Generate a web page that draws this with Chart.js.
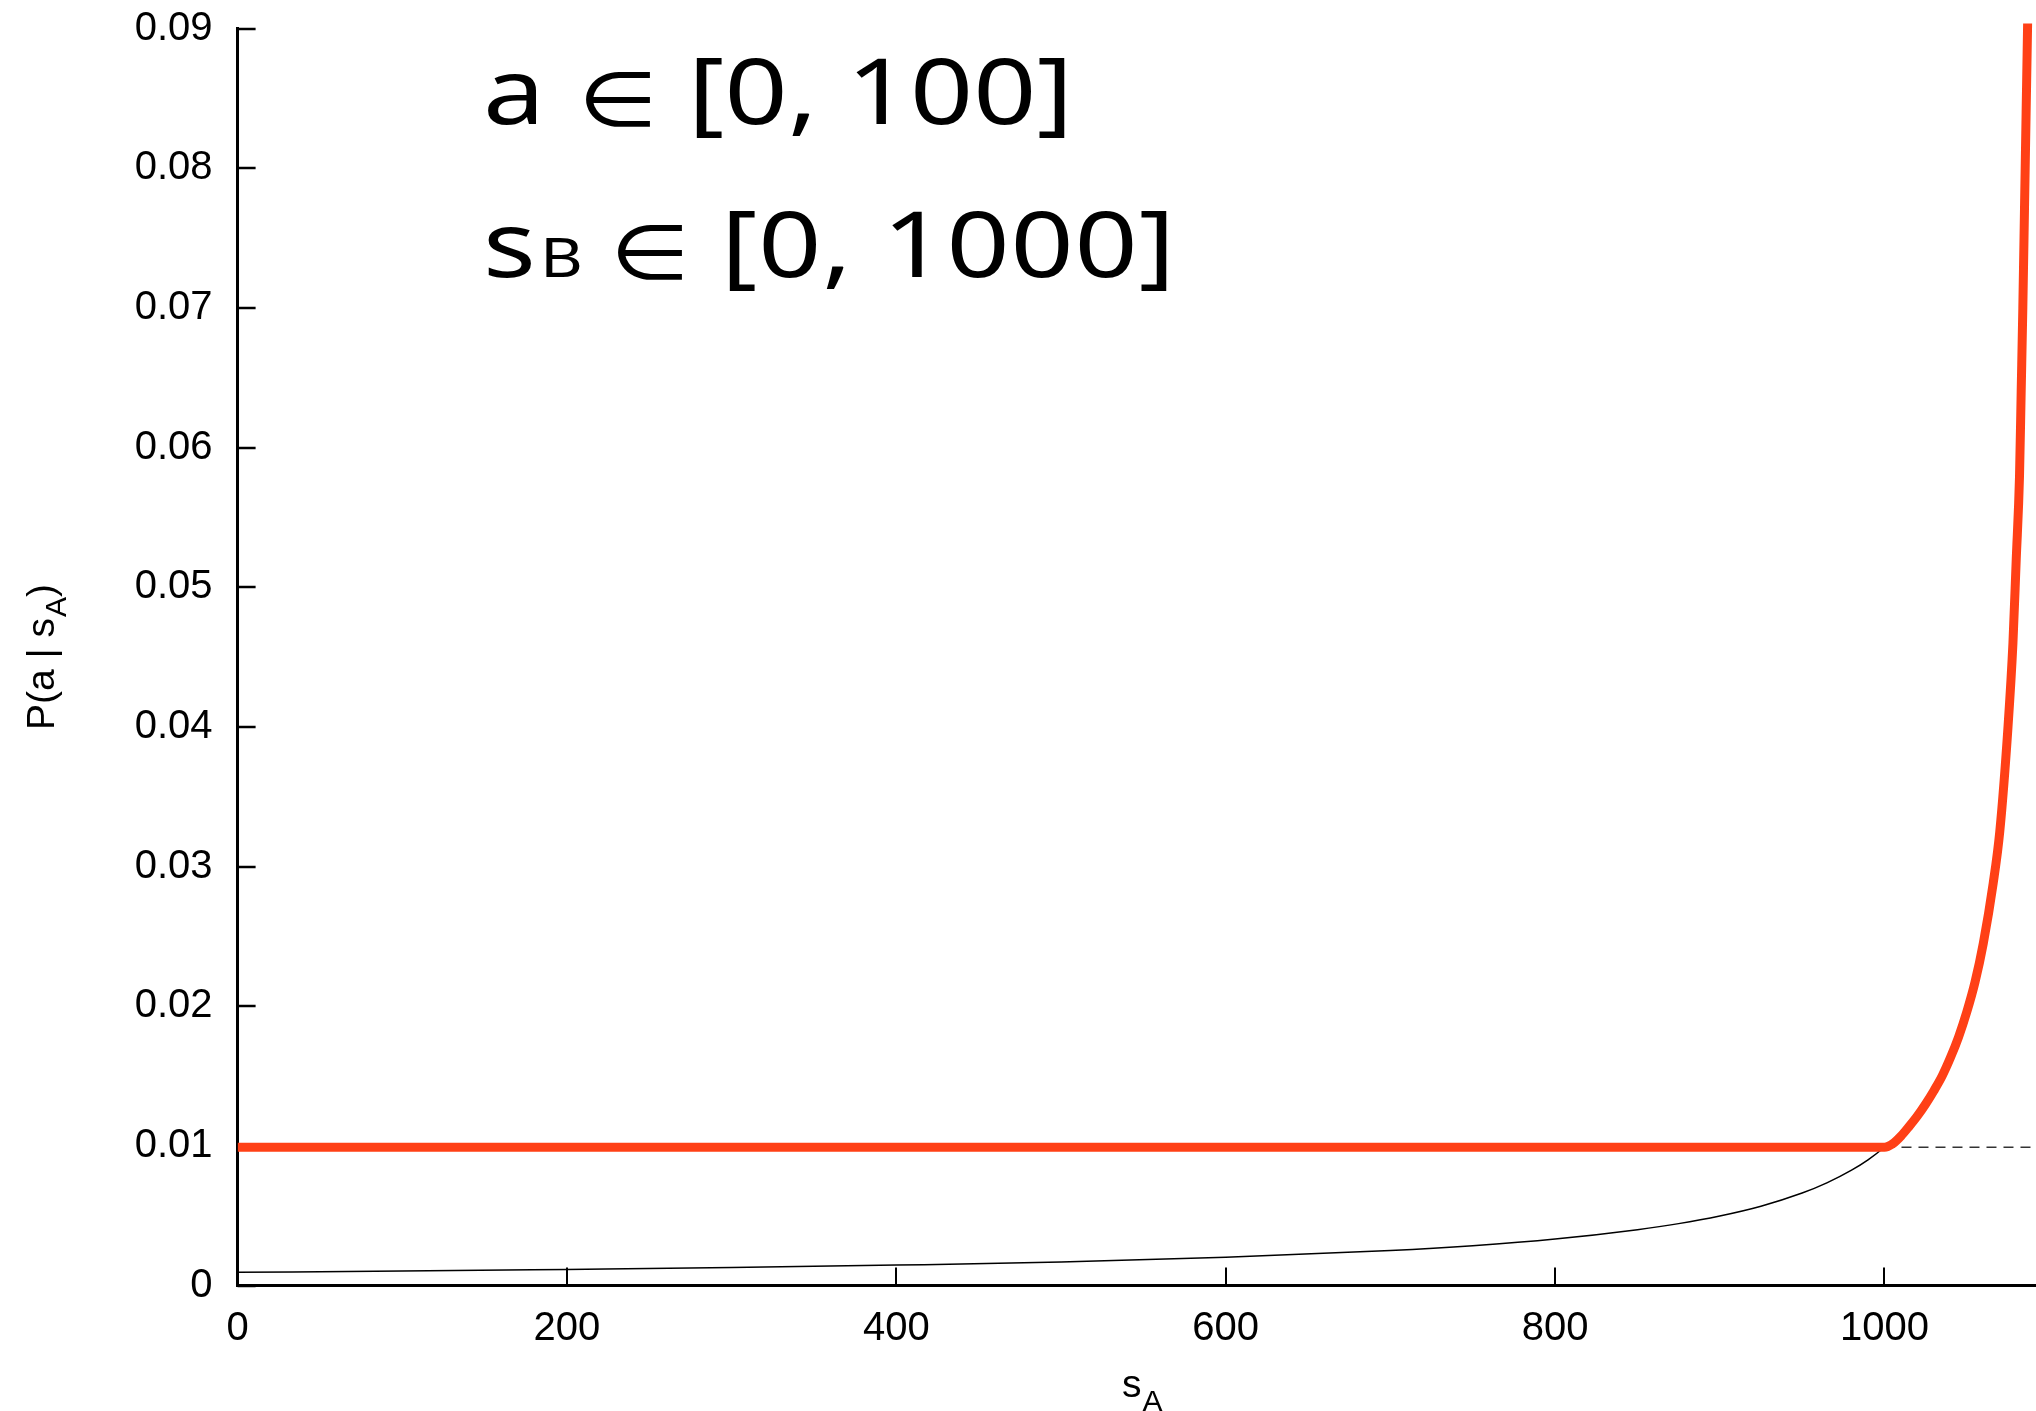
<!DOCTYPE html>
<html>
<head>
<meta charset="utf-8">
<script src="https://cdn.jsdelivr.net/npm/chart.js@4.4.1/dist/chart.umd.min.js"></script>
<style>
  html, body { margin: 0; padding: 0; background: #ffffff; }
  canvas { display: block; }
</style>
</head>
<body>
<canvas id="chart" width="2036" height="1411" style="width:2036px;height:1411px"></canvas>
<script>
// Axis ticks
const xTicks = [0, 200, 400, 600, 800, 1000];
const yTicks = [0, 0.01, 0.02, 0.03, 0.04, 0.05, 0.06, 0.07, 0.08, 0.09];
const yTickLabels = ['0', '0.01', '0.02', '0.03', '0.04', '0.05', '0.06', '0.07', '0.08', '0.09'];

// Thin black curve: P(a | s_A) before taking the floor
const blackS = [0, 100, 200, 300, 400, 500, 600, 700, 750, 800, 850, 875, 900, 925, 950, 965, 980, 990, 1000,
                1005, 1010, 1015, 1020, 1025, 1030, 1035, 1040, 1045, 1050, 1055, 1060, 1066, 1070, 1075, 1078, 1080,
                1082, 1083, 1084, 1085, 1086, 1087, 1088];
const blackP = [0.00095, 0.00103, 0.00115, 0.00128, 0.00146, 0.00168, 0.00202, 0.00250, 0.00285, 0.00333, 0.00400, 0.00443, 0.00498, 0.00568, 0.00662, 0.00735, 0.00826, 0.00900, 0.00990,
                0.01042, 0.0110, 0.01163, 0.0123, 0.01316, 0.0141, 0.01515, 0.0164, 0.01786, 0.0196, 0.02174, 0.0245, 0.0288, 0.0325, 0.0400, 0.0460, 0.0520,
                0.0580, 0.0640, 0.0700, 0.0770, 0.0840, 0.0910, 0.0990];

// Thick red curve: resulting P(a | s_A)
const redS = [0, 1000, 1005, 1010, 1015, 1020, 1025, 1030, 1035, 1040, 1045, 1050, 1055, 1060, 1066, 1070, 1075, 1078, 1080,
              1082, 1083, 1084, 1085, 1086, 1087, 1088];
const redP = [0.0099, 0.0099, 0.01015, 0.0107, 0.0114, 0.01215, 0.0130, 0.01395, 0.0150, 0.0163, 0.01780, 0.0196, 0.02174, 0.0245, 0.0288, 0.0325, 0.0400, 0.0460, 0.0520,
              0.0580, 0.0640, 0.0700, 0.0770, 0.0840, 0.0910, 0.0990];

// Dashed uniform level 1/101 beyond s_A = 1000
const uniformS = [1000, 1092];
const uniformP = [0.0099, 0.0099];

// Annotation text
const noteVar1 = 'a';
const noteVar2 = 's';
const noteVar2Sub = 'B';
const noteIn = '\u2208';
const noteRange1 = '[0, 100]';
const noteRange2 = '[0, 1000]';
const xTitleMain = 's';
const xTitleSub = 'A';
const yTitleMain = 'P(a | s';
const yTitleSub = 'A';
const yTitleEnd = ')';

const toPoints = (xs, ys) => xs.map((v, i) => ({ x: v, y: ys[i] }));

const AXIS_FONT = '"Liberation Sans", Arial, Helvetica, sans-serif';
const NOTE_FONT = '"Noto Sans", "DejaVu Sans", sans-serif';
const NOTE_STRETCH = 1.2;

// Tick marks pointing into the plot area
const inwardTicks = {
  id: 'inwardTicks',
  beforeDatasetsDraw(chart) {
    const { ctx, chartArea, scales } = chart;
    ctx.save();
    ctx.strokeStyle = '#000';
    ctx.lineWidth = 2;
    scales.x.ticks.forEach(t => {
      const px = Math.round(scales.x.getPixelForValue(t.value));
      ctx.beginPath();
      ctx.moveTo(px, chartArea.bottom);
      ctx.lineTo(px, chartArea.bottom - 18);
      ctx.stroke();
    });
    ctx.lineWidth = 2.5;
    scales.y.ticks.forEach(t => {
      const py = Math.round(scales.y.getPixelForValue(t.value));
      ctx.beginPath();
      ctx.moveTo(chartArea.left, py);
      ctx.lineTo(chartArea.left + 18, py);
      ctx.stroke();
    });
    ctx.restore();
  }
};

// Draws a string stretched horizontally, optionally spaced out to a given width
function fitText(ctx, str, x, y, width, sx) {
  ctx.save();
  ctx.translate(x, y);
  ctx.scale(sx, 1);
  ctx.letterSpacing = '0px';
  const n = Array.from(str).length;
  if (width) {
    const w0 = ctx.measureText(str).width;
    const ls = n > 1 ? (width / sx - w0) / (n - 1) : 0;
    ctx.letterSpacing = ls.toFixed(2) + 'px';
  }
  ctx.fillText(str, 0, 0);
  ctx.restore();
}

// Axis titles with subscripts and the parameter notes
const labels = {
  id: 'labels',
  afterDraw(chart) {
    const { ctx } = chart;
    ctx.save();
    ctx.fillStyle = '#000';
    ctx.textBaseline = 'alphabetic';
    ctx.textAlign = 'left';

    // x title
    ctx.font = '39px ' + AXIS_FONT;
    ctx.fillText(xTitleMain, 1122, 1397);
    const sw = ctx.measureText(xTitleMain).width;
    ctx.font = '30px ' + AXIS_FONT;
    ctx.fillText(xTitleSub, 1122 + sw + 1, 1411);

    // y title
    ctx.save();
    ctx.translate(54, 730);
    ctx.rotate(-Math.PI / 2);
    ctx.font = '39px ' + AXIS_FONT;
    ctx.fillText(yTitleMain, 0, 0);
    let w = ctx.measureText(yTitleMain).width;
    ctx.font = '30px ' + AXIS_FONT;
    ctx.fillText(yTitleSub, w + 1, 12);
    w += ctx.measureText(yTitleSub).width + 1;
    ctx.font = '39px ' + AXIS_FONT;
    ctx.fillText(yTitleEnd, w, 0);
    ctx.restore();

    // notes, line 1
    ctx.font = '92px ' + NOTE_FONT;
    fitText(ctx, noteVar1, 483, 124, 0, NOTE_STRETCH);
    fitText(ctx, noteRange1, 688, 124, 385, NOTE_STRETCH);
    ctx.font = '76px ' + NOTE_FONT;
    fitText(ctx, noteIn, 578, 126, 0, NOTE_STRETCH);

    // notes, line 2
    ctx.font = '92px ' + NOTE_FONT;
    fitText(ctx, noteVar2, 483, 277, 0, NOTE_STRETCH);
    fitText(ctx, noteRange2, 721, 277, 454, NOTE_STRETCH);
    ctx.font = '55px ' + NOTE_FONT;
    fitText(ctx, noteVar2Sub, 540, 277, 0, NOTE_STRETCH);
    ctx.font = '76px ' + NOTE_FONT;
    fitText(ctx, noteIn, 610, 279, 0, NOTE_STRETCH);
    ctx.restore();
  }
};

new Chart(document.getElementById('chart'), {
  type: 'scatter',
  data: {
    datasets: [
      {
        label: 'P(a | sA)',
        data: toPoints(redS, redP),
        showLine: true,
        borderColor: '#ff4016',
        borderWidth: 9,
        pointRadius: 0,
        cubicInterpolationMode: 'monotone',
        borderCapStyle: 'butt',
        borderJoinStyle: 'round',
        clip: { left: 0, top: 5, right: 0, bottom: 0 },
        order: 0
      },
      {
        label: 'uniform',
        data: toPoints(uniformS, uniformP),
        showLine: true,
        borderColor: '#333333',
        borderWidth: 1.5,
        borderDash: [10, 7],
        pointRadius: 0,
        order: 1
      },
      {
        label: 'raw',
        data: toPoints(blackS, blackP),
        showLine: true,
        borderColor: '#000000',
        borderWidth: 1.5,
        pointRadius: 0,
        cubicInterpolationMode: 'monotone',
        order: 2
      }
    ]
  },
  options: {
    responsive: false,
    animation: false,
    devicePixelRatio: 1,
    events: [],
    layout: { padding: { top: 28.6, left: 0, right: 0, bottom: 0 } },
    plugins: {
      legend: { display: false },
      tooltip: { enabled: false },
      title: { display: false }
    },
    scales: {
      x: {
        type: 'linear',
        position: 'bottom',
        min: 0,
        max: 1092,
        afterBuildTicks: axis => { axis.ticks = xTicks.map(v => ({ value: v })); },
        afterFit: axis => { axis.height = 125.5; axis.paddingLeft = 0; axis.paddingRight = 0; },
        grid: { display: false, drawTicks: false },
        border: { display: true, color: '#000', width: 3 },
        ticks: {
          color: '#000',
          padding: 19,
          maxRotation: 0,
          autoSkip: false,
          font: { family: AXIS_FONT, size: 40 },
          callback: v => String(v)
        }
      },
      y: {
        type: 'linear',
        position: 'left',
        min: 0,
        max: 0.09,
        afterBuildTicks: axis => { axis.ticks = yTicks.map(v => ({ value: v })); },
        afterFit: axis => { axis.width = 237.6; axis.paddingTop = 0; axis.paddingBottom = 0; },
        grid: { display: false, drawTicks: false },
        border: { display: true, color: '#000', width: 3 },
        ticks: {
          color: '#000',
          padding: 25,
          autoSkip: false,
          font: { family: AXIS_FONT, size: 40 },
          callback: v => yTickLabels[yTicks.indexOf(v)] ?? String(v)
        }
      }
    }
  },
  plugins: [inwardTicks, labels]
});
</script>
</body>
</html>
